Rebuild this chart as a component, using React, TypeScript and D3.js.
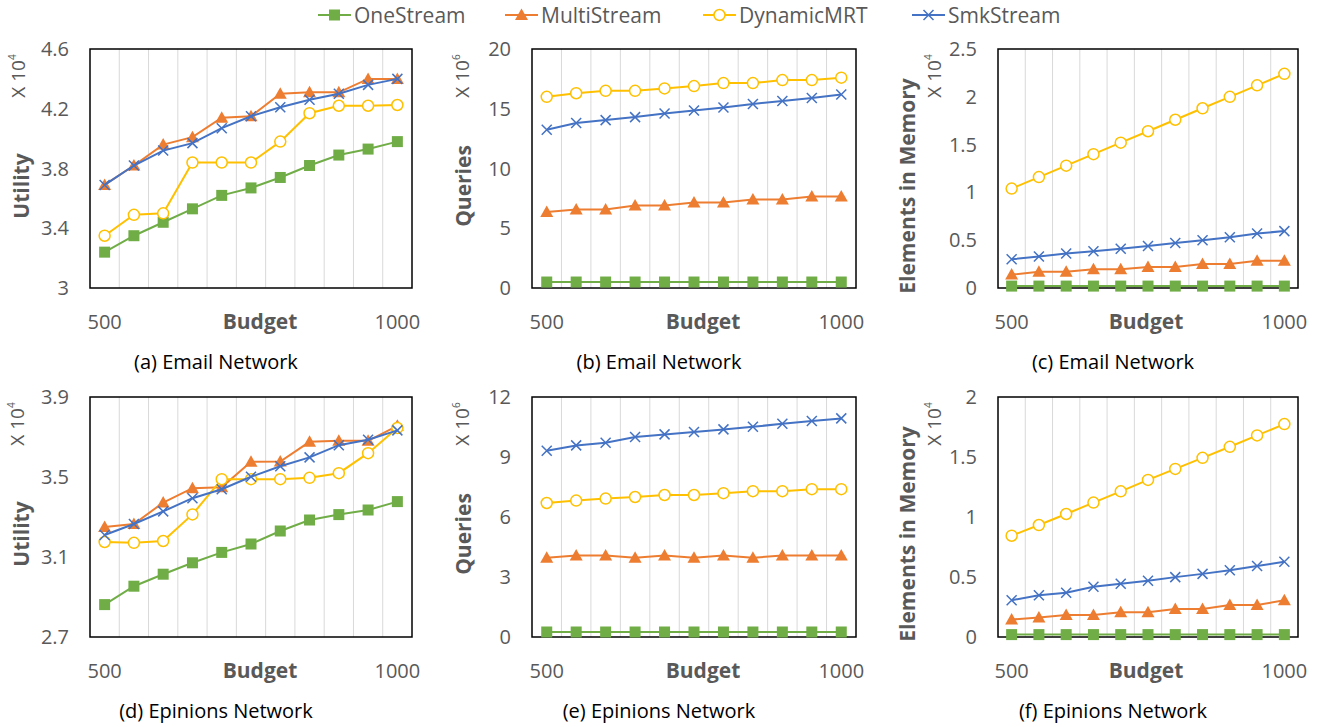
import React from 'react';
import * as d3 from 'd3';

// x categories (budget)
const budgets = [500, 550, 600, 650, 700, 750, 800, 850, 900, 950, 1000];
const shownBudgets = [500, 1000];

const seriesNames = ['OneStream', 'MultiStream', 'DynamicMRT', 'SmkStream'];
const seriesColors = ['#70AD47', '#ED7D31', '#FFC000', '#4472C4'];
const seriesMarkers = ['square', 'triangle', 'circle', 'cross'];

// (a) Email Network - Utility (x10^4)
const emailUtilityOne = [3.24, 3.35, 3.44, 3.53, 3.62, 3.67, 3.74, 3.82, 3.89, 3.93, 3.98];
const emailUtilityMulti = [3.69, 3.82, 3.96, 4.01, 4.14, 4.15, 4.3, 4.31, 4.31, 4.4, 4.4];
const emailUtilityDyn = [3.35, 3.49, 3.5, 3.84, 3.84, 3.84, 3.98, 4.17, 4.22, 4.22, 4.225];
const emailUtilitySmk = [3.69, 3.82, 3.92, 3.97, 4.07, 4.15, 4.21, 4.26, 4.3, 4.36, 4.4];

// (b) Email Network - Queries (x10^6)
const emailQueriesOne = [0.5, 0.5, 0.5, 0.5, 0.5, 0.5, 0.5, 0.5, 0.5, 0.5, 0.5];
const emailQueriesMulti = [6.35, 6.57, 6.57, 6.9, 6.9, 7.15, 7.15, 7.4, 7.4, 7.65, 7.65];
const emailQueriesDyn = [16.0, 16.3, 16.5, 16.5, 16.7, 16.9, 17.15, 17.15, 17.4, 17.4, 17.6];
const emailQueriesSmk = [13.25, 13.8, 14.05, 14.3, 14.6, 14.85, 15.1, 15.4, 15.65, 15.9, 16.2];

// (c) Email Network - Elements in Memory (x10^4)
const emailMemoryOne = [0.02, 0.02, 0.02, 0.02, 0.02, 0.02, 0.02, 0.02, 0.02, 0.02, 0.02];
const emailMemoryMulti = [0.14, 0.17, 0.17, 0.195, 0.195, 0.22, 0.22, 0.25, 0.25, 0.285, 0.285];
const emailMemoryDyn = [1.04, 1.16, 1.28, 1.4, 1.52, 1.64, 1.76, 1.88, 2.0, 2.12, 2.24];
const emailMemorySmk = [0.3, 0.33, 0.36, 0.385, 0.41, 0.44, 0.47, 0.5, 0.53, 0.57, 0.595];

// (d) Epinions Network - Utility (x10^4)
const epinionsUtilityOne = [2.862, 2.954, 3.014, 3.071, 3.123, 3.165, 3.23, 3.285, 3.312, 3.335, 3.377];
const epinionsUtilityMulti = [3.25, 3.265, 3.372, 3.444, 3.449, 3.576, 3.577, 3.676, 3.681, 3.681, 3.756];
const epinionsUtilityDyn = [3.175, 3.171, 3.18, 3.313, 3.489, 3.489, 3.489, 3.496, 3.519, 3.619, 3.745];
const epinionsUtilitySmk = [3.21, 3.265, 3.328, 3.394, 3.439, 3.501, 3.554, 3.598, 3.659, 3.686, 3.733];

// (e) Epinions Network - Queries (x10^6)
const epinionsQueriesOne = [0.25, 0.25, 0.25, 0.25, 0.25, 0.25, 0.25, 0.25, 0.25, 0.25, 0.25];
const epinionsQueriesMulti = [3.96, 4.08, 4.08, 3.96, 4.08, 3.96, 4.08, 3.96, 4.08, 4.08, 4.08];
const epinionsQueriesDyn = [6.7, 6.82, 6.92, 7.0, 7.1, 7.1, 7.19, 7.29, 7.29, 7.39, 7.39];
const epinionsQueriesSmk = [9.31, 9.58, 9.71, 10.0, 10.13, 10.25, 10.38, 10.51, 10.66, 10.8, 10.93];

// (f) Epinions Network - Elements in Memory (x10^4)
const epinionsMemoryOne = [0.02, 0.02, 0.02, 0.02, 0.02, 0.02, 0.02, 0.02, 0.02, 0.02, 0.02];
const epinionsMemoryMulti = [0.145, 0.162, 0.184, 0.184, 0.206, 0.206, 0.234, 0.234, 0.267, 0.267, 0.306];
const epinionsMemoryDyn = [0.844, 0.933, 1.025, 1.12, 1.214, 1.309, 1.401, 1.493, 1.585, 1.68, 1.774];
const epinionsMemorySmk = [0.306, 0.348, 0.368, 0.418, 0.443, 0.468, 0.499, 0.526, 0.557, 0.591, 0.627];

const utilityTicksA = [3, 3.4, 3.8, 4.2, 4.6];
const queriesTicksB = [0, 5, 10, 15, 20];
const memoryTicksC = [0, 0.5, 1, 1.5, 2, 2.5];
const utilityTicksD = [2.7, 3.1, 3.5, 3.9];
const queriesTicksE = [0, 3, 6, 9, 12];
const memoryTicksF = [0, 0.5, 1, 1.5, 2];

const FONT = '"Open Sans", "Noto Sans", sans-serif';
const GRAY = '#595959';

type Panel = {
  left: number; right: number; top: number; bottom: number;
  ticks: number[]; series: number[][]; yTitle: string; exp: string;
  caption: string; titleX: number; unitX: number; budgetDx: number;
};

const panels: Panel[] = [
  { left: 90, right: 412, top: 49, bottom: 288, ticks: utilityTicksA,
    series: [emailUtilityOne, emailUtilityMulti, emailUtilityDyn, emailUtilitySmk],
    yTitle: 'Utility', exp: '4', caption: '(a) Email Network', titleX: 22, unitX: 18, budgetDx: 9 },
  { left: 532, right: 856, top: 49, bottom: 288, ticks: queriesTicksB,
    series: [emailQueriesOne, emailQueriesMulti, emailQueriesDyn, emailQueriesSmk],
    yTitle: 'Queries', exp: '6', caption: '(b) Email Network', titleX: 464, unitX: 462, budgetDx: 9 },
  { left: 998, right: 1298, top: 49, bottom: 288, ticks: memoryTicksC,
    series: [emailMemoryOne, emailMemoryMulti, emailMemoryDyn, emailMemorySmk],
    yTitle: 'Elements in Memory', exp: '4', caption: '(c) Email Network', titleX: 908, unitX: 934, budgetDx: -2 },
  { left: 90, right: 412, top: 397, bottom: 637, ticks: utilityTicksD,
    series: [epinionsUtilityOne, epinionsUtilityMulti, epinionsUtilityDyn, epinionsUtilitySmk],
    yTitle: 'Utility', exp: '4', caption: '(d) Epinions Network', titleX: 22, unitX: 17, budgetDx: 9 },
  { left: 532, right: 856, top: 397, bottom: 637, ticks: queriesTicksE,
    series: [epinionsQueriesOne, epinionsQueriesMulti, epinionsQueriesDyn, epinionsQueriesSmk],
    yTitle: 'Queries', exp: '6', caption: '(e) Epinions Network', titleX: 464, unitX: 462, budgetDx: 9 },
  { left: 998, right: 1298, top: 397, bottom: 637, ticks: memoryTicksF,
    series: [epinionsMemoryOne, epinionsMemoryMulti, epinionsMemoryDyn, epinionsMemorySmk],
    yTitle: 'Elements in Memory', exp: '4', caption: '(f) Epinions Network', titleX: 908, unitX: 934, budgetDx: -2 },
];

const Marker = ({ kind, x, y, color }: { kind: string; x: number; y: number; color: string }) => {
  if (kind === 'square') return <rect x={x - 5.5} y={y - 5.5} width={11} height={11} fill={color} />;
  if (kind === 'triangle') return <path d={`M${x},${y - 6.5}L${x + 6.5},${y + 5}L${x - 6.5},${y + 5}Z`} fill={color} />;
  if (kind === 'circle') return <circle cx={x} cy={y} r={5.5} fill="#fff" stroke={color} strokeWidth={1.5} />;
  return <path d={`M${x - 5},${y - 5}L${x + 5},${y + 5}M${x - 5},${y + 5}L${x + 5},${y - 5}`} stroke={color} strokeWidth={1.5} />;
};

const ChartPanel = ({ p }: { p: Panel }) => {
  const x = d3.scaleBand<number>().domain(budgets).range([p.left, p.right]).padding(0);
  const y = d3.scaleLinear().domain(d3.extent(p.ticks) as [number, number]).range([p.bottom, p.top]);
  const cx = (b: number) => (x(b) as number) + x.bandwidth() / 2;
  const line = d3.line<number>().x((_, i) => cx(budgets[i])).y((v) => y(v));
  const midY = p.top + 137;
  return (
    <g>
      {budgets.slice(1).map((b) => (
        <line key={b} x1={x(b)} x2={x(b)} y1={p.top} y2={p.bottom} stroke="#d9d9d9" strokeWidth={1} />
      ))}
      <rect x={p.left} y={p.top} width={p.right - p.left} height={p.bottom - p.top} fill="none" stroke="#000" strokeWidth={1.5} />
      {p.ticks.map((t) => (
        <text key={t} x={p.left - 21} y={y(t)} dy="0.35em" textAnchor="end" fontSize={20} fill={GRAY}>{t}</text>
      ))}
      {shownBudgets.map((b) => (
        <text key={b} x={cx(b)} y={p.bottom + 34} dy="0.35em" textAnchor="middle" fontSize={20} fill={GRAY}>{b}</text>
      ))}
      <text x={(p.left + p.right) / 2 + p.budgetDx} y={p.bottom + 34} dy="0.35em" textAnchor="middle" fontSize={21} fontWeight="bold" fill={GRAY}>Budget</text>
      <text transform={`translate(${p.titleX},${midY}) rotate(-90)`} dy="0.35em" textAnchor="middle" fontSize={21} fontWeight="bold" fill={GRAY}>{p.yTitle}</text>
      <text transform={`translate(${p.unitX},${p.top + 27}) rotate(-90)`} dy="0.35em" textAnchor="middle" fontSize={19} fill={GRAY}>
        X 10<tspan fontSize={10} dy="-9">{p.exp}</tspan>
      </text>
      <text x={(p.left + p.right) / 2 - 35} y={p.bottom + 74} dy="0.35em" textAnchor="middle" fontSize={20} fill="#000">{p.caption}</text>
      {p.series.map((vals, si) => (
        <g key={si}>
          <path d={line(vals) as string} fill="none" stroke={seriesColors[si]} strokeWidth={2} />
          {vals.map((v, i) => (
            <Marker key={i} kind={seriesMarkers[si]} x={cx(budgets[i])} y={y(v)} color={seriesColors[si]} />
          ))}
        </g>
      ))}
    </g>
  );
};

const legendX = [318, 505, 703, 912];

export default function App() {
  return (
    <svg width={1329} height={727} style={{ position: 'absolute', left: 0, top: 0, background: '#fff' }} fontFamily={FONT}>
      <rect width={1329} height={727} fill="#fff" />
      {seriesNames.map((n, i) => (
        <g key={n}>
          <line x1={legendX[i]} x2={legendX[i] + 33} y1={15} y2={15} stroke={seriesColors[i]} strokeWidth={2} />
          <Marker kind={seriesMarkers[i]} x={legendX[i] + 16.5} y={15} color={seriesColors[i]} />
          <text x={legendX[i] + 36} y={15.5} dy="0.35em" fontSize={21} fill={GRAY}>{n}</text>
        </g>
      ))}
      {panels.map((p, i) => <ChartPanel key={i} p={p} />)}
    </svg>
  );
}
